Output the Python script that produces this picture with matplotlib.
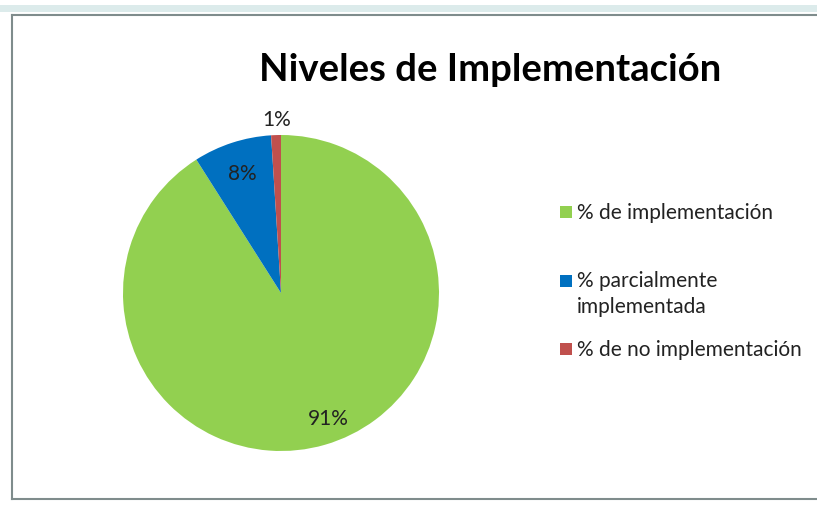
import numpy as np
import matplotlib
matplotlib.use("Agg")
import matplotlib.pyplot as plt
from matplotlib.patches import Rectangle
from matplotlib.lines import Line2D

plt.rcParams['font.family'] = ['Lato', 'DejaVu Sans']

labels = ["% de implementación", "% parcialmente\nimplementada", "% de no implementación"]
values = [91, 8, 1]
colors = ["#92D050", "#0070C0", "#C0504D"]
label_dist = [0.80, 0.80, 1.10]
label_offset_px = [(12, -4), (0, 0), (1, 0)]
title = "Niveles de Implementación"

W, H = 817, 506
fig = plt.figure(figsize=(W / 100, H / 100), dpi=100)
fig.patch.set_facecolor("white")

# pie axes: center (281, 294), radius ~158 px
cx, cy, r = 281, 294, 158
ax = fig.add_axes([(cx - r) / W, 1 - (cy + r) / H, 2 * r / W, 2 * r / H])
wedges, _ = ax.pie(values, colors=colors, startangle=90, counterclock=False,
                   radius=1.0, wedgeprops=dict(linewidth=0))
ax.set_xlim(-1, 1)
ax.set_ylim(-1, 1)
ax.set_aspect("auto")
ax.axis("off")

for w, v, d, (ox, oy) in zip(wedges, values, label_dist, label_offset_px):
    ang = np.deg2rad((w.theta1 + w.theta2) / 2)
    ax.text(d * np.cos(ang) + ox / r, d * np.sin(ang) + oy / r, f"{v}%",
            ha="center", va="center", fontsize=15, color="#222222")

fig.text(490 / W, 1 - 70 / H, title, ha="center", va="center",
         fontsize=27.5, fontweight="bold", color="black")

# legend drawn manually
leg_y = [213, 282, 350]
for lab, col, y in zip(labels, colors, leg_y):
    fig.patches.append(Rectangle((560 / W, 1 - (y + 6) / H), 12 / W, 12 / H,
                                 transform=fig.transFigure, facecolor=col,
                                 edgecolor="none"))
    fig.text(577 / W, 1 - y / H, lab, ha="left", va="center",
             fontsize=15, color="#222222", linespacing=1.4)

# the two-line entry: first line aligned with its marker
for t in fig.texts:
    if "\n" in t.get_text():
        t.set_va("top")
        t.set_position((577 / W, 1 - 271 / H))

# frame lines
fc = "#7f8c8c"
fig.add_artist(Line2D([12 / W, 1], [1 - 16 / H, 1 - 16 / H], color=fc, lw=1.5))
fig.add_artist(Line2D([12 / W, 12 / W], [1 - 16 / H, 1 - 500 / H], color=fc, lw=1.5))
fig.add_artist(Line2D([12 / W, 1], [1 - 500 / H, 1 - 500 / H], color=fc, lw=1.5))
fig.add_artist(Line2D([0, 1], [1 - 9 / H, 1 - 9 / H], color="#dcebeb", lw=5))

fig.savefig("out.png", dpi=100)
